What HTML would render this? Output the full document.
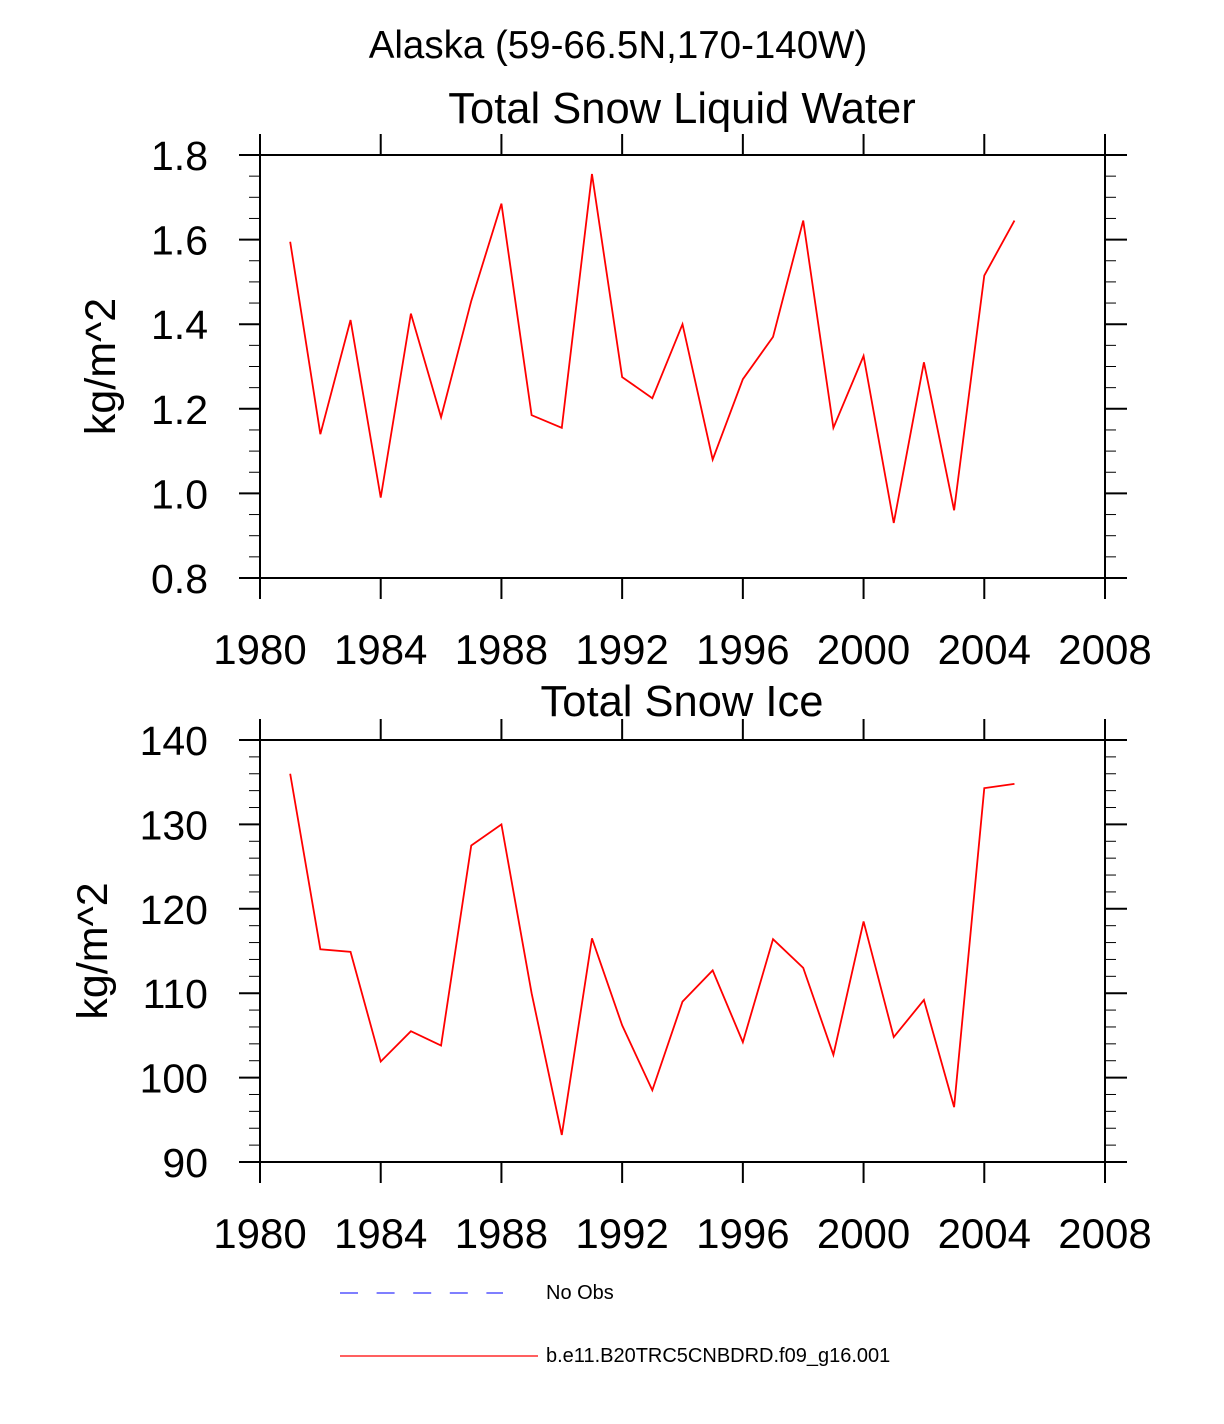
<!DOCTYPE html>
<html><head><meta charset="utf-8"><style>
body{margin:0;background:#fff}
svg{display:block;font-family:"Liberation Sans",sans-serif}
</style></head><body>
<svg id="chart" width="1224" height="1424" viewBox="0 0 1224 1424">
<text x="618" y="58" font-size="38.5" text-anchor="middle">Alaska (59-66.5N,170-140W)</text>
<g id="p1"></g>
<g id="p2"></g>
<g>
<line x1="340" y1="1293" x2="503" y2="1293" stroke="#3333ff" stroke-width="1.2" stroke-dasharray="18 18.6"/>
<text x="546" y="1299" font-size="20">No Obs</text>
<line x1="340" y1="1356" x2="538" y2="1356" stroke="#ff0000" stroke-width="1.2"/>
<text x="546" y="1362" font-size="20">b.e11.B20TRC5CNBDRD.f09_g16.001</text>
</g>
</svg>
<script>
const years = [1981,1982,1983,1984,1985,1986,1987,1988,1989,1990,1991,1992,1993,1994,1995,1996,1997,1998,1999,2000,2001,2002,2003,2004,2005];
const liquidWater = [1.595,1.14,1.41,0.99,1.425,1.18,1.455,1.685,1.185,1.155,1.755,1.275,1.225,1.40,1.08,1.27,1.37,1.645,1.155,1.325,0.93,1.31,0.96,1.515,1.645];
const snowIce = [136,115.2,114.9,101.9,105.5,103.8,127.5,130,110,93.2,116.5,106.2,98.5,109,112.7,104.2,116.4,113,102.7,118.5,104.8,109.2,96.5,134.3,134.8];
const xTicks = [1980,1984,1988,1992,1996,2000,2004,2008];
const yTicks1 = ["0.8","1.0","1.2","1.4","1.6","1.8"];
const yTicks2 = ["90","100","110","120","130","140"];
const NS="http://www.w3.org/2000/svg";
function mk(parent,tag,attrs){const e=document.createElementNS(NS,tag);for(const k in attrs)e.setAttribute(k,attrs[k]);parent.appendChild(e);return e;}
function panel(g,top,bottom,ymin,ymax,yt,vals,title,prefix,titleY,ytitleX,nsub){
  const L=260,R=1105;
  const xs=v=>L+(v-1980)/(2008-1980)*(R-L);
  const ys=v=>bottom-(v-ymin)/(ymax-ymin)*(bottom-top);
  const t=mk(g,'text',{x:682,y:titleY,'font-size':43.5,'text-anchor':'middle'});t.textContent=title;
  
  
  const f=mk(g,'rect',{x:L,y:top,width:R-L,height:bottom-top,fill:'none',stroke:'#000','stroke-width':2});
  
  
  xTicks.forEach(v=>{const x=xs(v);
    mk(g,'line',{x1:x,y1:top-21,x2:x,y2:top,stroke:'#000','stroke-width':2});
    mk(g,'line',{x1:x,y1:bottom,x2:x,y2:bottom+21,stroke:'#000','stroke-width':2});
    const l=mk(g,'text',{x:x,y:bottom+86,'font-size':42,'text-anchor':'middle'});l.textContent=v;
    
    
  });
  const step=(ymax-ymin)/(yt.length-1);
  for(let i=0;i<yt.length;i++){const v=ymin+i*step,y=ys(v);
    mk(g,'line',{x1:L-21,y1:y,x2:L,y2:y,stroke:'#000','stroke-width':2});
    mk(g,'line',{x1:R,y1:y,x2:R+22,y2:y,stroke:'#000','stroke-width':2});
    const l=mk(g,'text',{x:208,y:y+15,'font-size':41,'text-anchor':'end'});l.textContent=yt[i];
    
    
    if(i<yt.length-1)for(let k=1;k<nsub;k++){const yy=ys(v+k*step/nsub);
      mk(g,'line',{x1:L-11,y1:yy,x2:L,y2:yy,stroke:'#000','stroke-width':1});
      mk(g,'line',{x1:R,y1:yy,x2:R+11,y2:yy,stroke:'#000','stroke-width':1});}
  }
  const yl=mk(g,'text',{x:0,y:0,'font-size':43,'text-anchor':'middle',transform:`translate(${ytitleX},${(top+bottom)/2}) rotate(-90)`});yl.textContent='kg/m^2';
  
  
  const pts=years.map((yr,i)=>xs(yr)+','+ys(vals[i])).join(' ');
  const pl=mk(g,'polyline',{points:pts,fill:'none',stroke:'#ff0000','stroke-width':1.8});
  
  
}
panel(document.getElementById('p1'),155,578,0.8,1.8,yTicks1,liquidWater,'Total Snow Liquid Water','liquid',123,115,4);
panel(document.getElementById('p2'),740,1162,90,140,yTicks2,snowIce,'Total Snow Ice','ice',716,107,5);
</script>
</body></html>
